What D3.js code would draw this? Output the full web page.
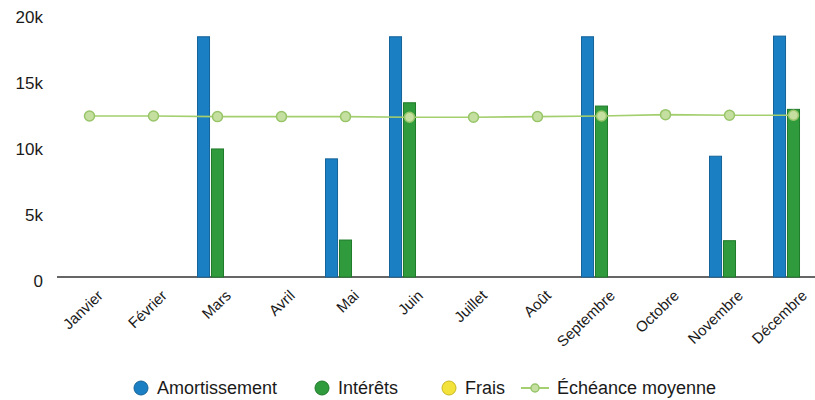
<!DOCTYPE html>
<html><head><meta charset="utf-8">
<script src="https://cdn.jsdelivr.net/npm/d3@7"></script>
<style>body{margin:0;background:#fff}svg{display:block}text{font-family:"Liberation Sans",Arial,sans-serif}</style>
</head><body><svg id="c" width="815" height="400"></svg>
<script>
const months = ["Janvier","Février","Mars","Avril","Mai","Juin","Juillet","Août","Septembre","Octobre","Novembre","Décembre"];
const amortissement = [0,0,18200,0,8950,18200,0,0,18200,0,9150,18250];
const interets = [0,0,9700,0,2800,13200,0,0,12950,0,2750,12700];
const frais = [0,0,0,0,0,0,0,0,0,0,0,0];
const echeance = [12200,12200,12150,12150,12150,12100,12100,12150,12200,12300,12250,12250];
const yTicks = [0,5000,10000,15000,20000];
const seriesNames = ["Amortissement","Intérêts","Frais","Échéance moyenne"];
const colors = {"Amortissement":"#1b7fc3","Intérêts":"#2f9b3c","Frais":"#f2e23a","Échéance moyenne":"#a3cf6e"};
const strokes = {"Amortissement":"#14639a","Intérêts":"#1f7a2a","Frais":"#c9b820"};

const svg = d3.select("#c");
const x = d3.scaleBand().domain(months).range([57.5,825.5]).padding(0);
const y = d3.scaleLinear().domain([0,20000]).range([277,13]);
const barSeries = ["Amortissement","Intérêts","Frais"];
const barData = {"Amortissement":amortissement,"Intérêts":interets,"Frais":frais};
const x1 = d3.scaleBand().domain(barSeries).range([-20,20]).paddingInner(0.14);

// y axis labels
const yAxis = d3.axisLeft(y).tickValues(yTicks).tickFormat(d => d===0 ? "0" : (d/1000)+"k").tickSize(0).tickPadding(0);
const ya = svg.append("g").attr("transform","translate(43,4)").call(yAxis);
ya.select(".domain").remove();
ya.selectAll("text").attr("font-size",17).attr("fill","#1a1a1a").style("font-family","'Liberation Sans',Arial,sans-serif");

// baseline
svg.append("line").attr("x1",57).attr("x2",815).attr("y1",y(0)).attr("y2",y(0)).attr("stroke","#333").attr("stroke-width",1.5);

// bars
const g = svg.append("g");
months.forEach((m,i) => {
  barSeries.forEach(s => {
    const v = barData[s][i];
    if (v <= 0) return;
    g.append("rect")
      .attr("x", x(m) + x.bandwidth()/2 + x1(s))
      .attr("y", y(v))
      .attr("width", x1.bandwidth())
      .attr("height", y(0) - y(v))
      .attr("fill", colors[s])
      .attr("stroke", strokes[s]).attr("stroke-width",1);
  });
});

// line
const line = d3.line().x((d,i) => x(months[i]) + x.bandwidth()/2).y(d => y(d));
svg.append("path").datum(echeance).attr("d", line).attr("fill","none").attr("stroke", colors["Échéance moyenne"]).attr("stroke-width",1.6);
svg.selectAll(".pt").data(echeance).enter().append("circle")
  .attr("cx",(d,i) => x(months[i]) + x.bandwidth()/2).attr("cy", d => y(d)).attr("r",5)
  .attr("fill","#c4df9f").attr("stroke","#98c56a").attr("stroke-width",1.5);

// x labels
const xa = svg.append("g").attr("transform",`translate(0,${y(0)})`).call(d3.axisBottom(x).tickSize(0).tickPadding(0));
xa.select(".domain").remove();
xa.selectAll("text").attr("font-size",15).attr("fill","#1a1a1a").attr("text-anchor","end")
  .attr("transform","translate(7,12) rotate(-44)").attr("dy","0.71em")
  .style("font-family","'Liberation Sans',Arial,sans-serif");

// legend
const leg = svg.append("g").attr("transform","translate(0,388)");
const legPos = [141, 322, 449, 535];
seriesNames.forEach((name, i) => {
  const cx = legPos[i];
  let tx;
  if (name !== "Échéance moyenne") {
    leg.append("circle").attr("cx",cx).attr("cy",0).attr("r",7).attr("fill",colors[name]).attr("stroke",strokes[name]).attr("stroke-width",1);
    tx = cx + 16;
  } else {
    leg.append("line").attr("x1",cx-14).attr("x2",cx+14).attr("y1",0).attr("y2",0).attr("stroke",colors[name]).attr("stroke-width",2);
    leg.append("circle").attr("cx",cx).attr("cy",0).attr("r",4).attr("fill","#c4df9f").attr("stroke","#98c56a").attr("stroke-width",1.5);
    tx = cx + 22;
  }
  leg.append("text").attr("x",tx).attr("y",0).attr("dy","0.35em").attr("font-size",18).attr("fill","#1a1a1a").text(name);
});
</script></body></html>
